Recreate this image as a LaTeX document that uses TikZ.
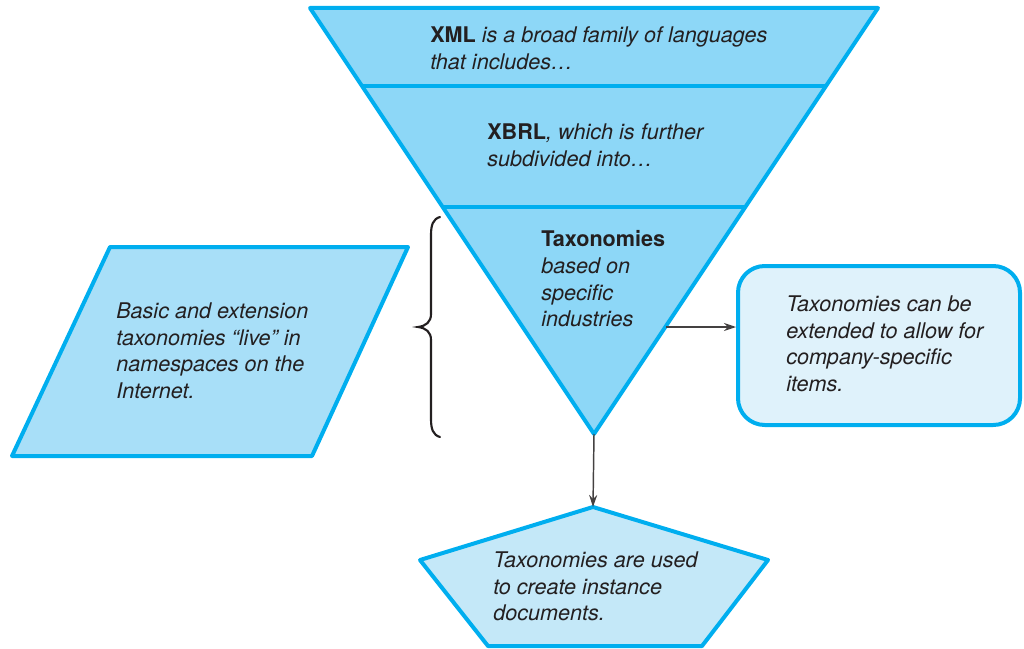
\documentclass[tikz,border=0pt]{standalone}
\usepackage{fontspec}
\setmainfont{TeX Gyre Heros}
\usetikzlibrary{arrows.meta}
\definecolor{edgeblue}{HTML}{00AEEF}
\definecolor{funnelfill}{HTML}{8DD7F7}
\definecolor{paperfill}{HTML}{A8DFF8}
\definecolor{notefill}{HTML}{DFF2FB}
\definecolor{docfill}{HTML}{C4E8F8}
\definecolor{inkgray}{HTML}{231F20}
\begin{document}
\begin{tikzpicture}[x=0.75pt,y=-0.75pt,
  shapeline/.style={draw=edgeblue, line width=3pt, line join=round},
  label/.style={anchor=north west, inner sep=0pt, align=left,
    font=\fontsize{16.2}{20}\selectfont\itshape, text=inkgray,
    execute at begin node={\rule{0pt}{12.5pt}}},
  link/.style={draw=inkgray!85, line width=1.1pt, -{Stealth[length=9pt,width=6pt]}},
  bracket/.style={draw=inkgray, line width=1.6pt, line cap=round}]
\useasboundingbox (0,0) rectangle (1024,649);
\clip (0,0) rectangle (1024,649);

% funnel corners
\coordinate (fl) at (310,8);
\coordinate (fr) at (878,8);
\coordinate (apex) at (594,434);

% funnel: fill, layer dividers, outline
\fill[funnelfill] (fl) -- (fr) -- (apex) -- cycle;
\draw[shapeline] (362,86) -- (826,86);
\draw[shapeline] (443,207) -- (745,207);
\draw[shapeline] (fl) -- (fr) -- (apex) -- cycle;

% parallelogram
\draw[shapeline, fill=paperfill] (110,247) -- (408,247) -- (312,456) -- (12,456) -- cycle;

% rounded note box
\draw[shapeline, fill=notefill, rounded corners=20pt] (738,266) rectangle (1020,425);

% pentagon
\coordinate (docTop) at (593,507);
\draw[shapeline, fill=docfill] (docTop) -- (768,560) -- (702,646) -- (488,646) -- (420,560) -- cycle;

% brace beside the lowest layer
\draw[bracket] (440,217) .. controls (433,219) and (431,225) .. (431,235)
  -- (431,314) .. controls (431,322) and (426,326) .. (418,327)
  .. controls (426,328) and (431,332) .. (431,340)
  -- (431,419) .. controls (431,429) and (433,435) .. (440,437);

% texts
\node[label] (xml) at (430,26.5) {\textbf{\upshape XML} is a broad family of languages\\that includes\dots};
\node[label] (xbrl) at (487,123.5) {\textbf{\upshape XBRL}, which is further\\subdivided into\dots};
\node[label] (tax) at (541,230.5) {\textbf{\upshape Taxonomies}\\based on\\specific\\industries};
\node[label] (live) at (116,302.5) {Basic and extension\\taxonomies “live” in\\namespaces on the\\Internet.};
\node[label] (ext) at (786,295.5) {Taxonomies can be\\extended to allow for\\company-specific\\items.};
\node[label] (inst) at (493,551.5) {Taxonomies are used\\to create instance\\documents.};

% connectors
\coordinate (funnelSide) at (666,327);
\coordinate (noteWest) at (736,327);
\draw[link] (funnelSide) -- (noteWest);
\draw[link] (apex) -- (docTop);
\end{tikzpicture}
\end{document}
